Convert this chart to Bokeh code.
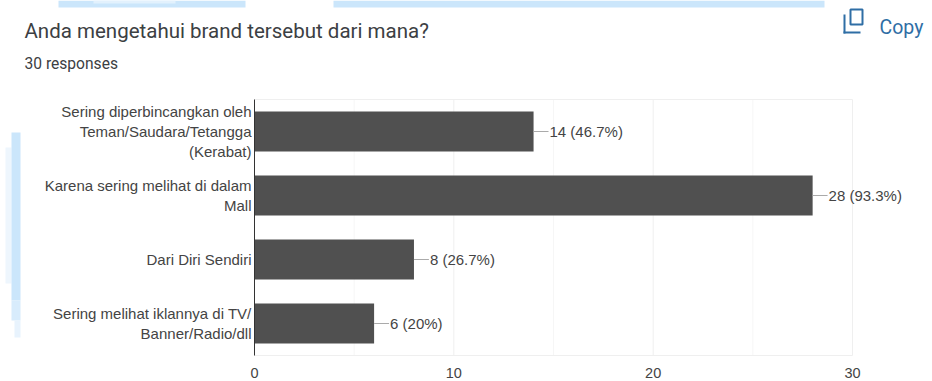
from bokeh.core.properties import value
from bokeh.embed import file_html
from bokeh.models import BoxAnnotation, ColumnDataSource, FixedTicker, Label, LabelSet, Range1d
from bokeh.plotting import figure
from bokeh.resources import INLINE

# Survey responses, listed top to bottom as they appear on the chart
categories = [
    "Sering diperbincangkan oleh\nTeman/Saudara/Tetangga\n(Kerabat)",
    "Karena sering melihat di dalam\nMall",
    "Dari Diri Sendiri",
    "Sering melihat iklannya di TV/\nBanner/Radio/dll",
]
counts = [14, 28, 8, 6]
value_labels = ["14 (46.7%)", "28 (93.3%)", "8 (26.7%)", "6 (20%)"]
major_ticks = [0, 10, 20, 30]
minor_ticks = [5, 15, 25]

title_text = "Anda mengetahui brand tersebut dari mana?"
subtitle_text = "30 responses"
copy_text = "Copy"

FONT = "Liberation Sans"
BAR = "#505050"
INK = "#444444"
GRID = "#efefef"
MINOR_GRID = "#f6f6f6"
LIGHT_BLUE = "#cbe6fb"
PALE_BLUE = "#e2f1fd"
COPY_BLUE = "#2f6ea5"

WIDTH, HEIGHT = 932, 381

# The frame fills the page so the heading can sit on it; the plotting area
# spans 254..852 px across and 99..355 px down.
PLOT_LEFT, PLOT_RIGHT, PLOT_TOP, PLOT_BOTTOM = 254, 852, 99, 355
XMAX = major_ticks[-1]
px_per_unit = (PLOT_RIGHT - PLOT_LEFT) / XMAX
band = (PLOT_BOTTOM - PLOT_TOP) / len(categories)
first_centre = PLOT_TOP + band / 2
positions = list(range(len(categories)))
y_edge_top, y_edge_bottom = -0.5, len(categories) - 0.5

p = figure(
    width=WIDTH, height=HEIGHT,
    x_range=Range1d(-PLOT_LEFT / px_per_unit, (WIDTH - PLOT_LEFT) / px_per_unit),
    y_range=Range1d((HEIGHT - first_centre) / band, -first_centre / band),
    output_backend="svg", toolbar_location=None,
    min_border=0, min_border_left=0, min_border_right=0, min_border_top=0, min_border_bottom=0,
    background_fill_color="white", border_fill_color="white",
)
p.outline_line_color = None
p.xgrid.visible = False
p.ygrid.visible = False


def canvas_box(left, right, top, bottom, colour):
    """A flat rectangle placed in page pixels, measured from the top-left corner."""
    p.add_layout(BoxAnnotation(
        left=left, right=right, top=top, bottom=bottom,
        left_units="canvas", right_units="canvas", top_units="canvas", bottom_units="canvas",
        fill_color=colour, fill_alpha=1, line_color=None, level="underlay",
    ))


# Pale page decoration sitting behind the card
for box in [
    (58, 245, 0, 7, LIGHT_BLUE),
    (93, 175, 0, 3, PALE_BLUE),
    (333, 824, 0, 7, LIGHT_BLUE),
    (5, 11, 147, 283, "#eef6fd"),
    (11, 20, 132, 300, LIGHT_BLUE),
    (11, 20, 300, 320, "#d8ecfc"),
    (14, 20, 320, 337, "#e8f3fd"),
]:
    canvas_box(*box)

# Copy icon: a square outline with an L-shaped corner behind it
p.add_layout(BoxAnnotation(
    left=850, right=862, top=9, bottom=24,
    left_units="canvas", right_units="canvas", top_units="canvas", bottom_units="canvas",
    fill_alpha=0, line_color=COPY_BLUE, line_alpha=1, line_width=2, level="underlay",
))
for box in [
    (843, 845, 14, 33, COPY_BLUE),
    (843, 860, 31, 33, COPY_BLUE),
]:
    canvas_box(*box)

# Axes pinned to the edges of the plotting area
p.xaxis.fixed_location = y_edge_bottom
p.xaxis.bounds = (0, XMAX)
p.xaxis.ticker = FixedTicker(ticks=major_ticks, minor_ticks=minor_ticks)
p.xaxis.axis_line_color = None
p.xaxis.major_tick_line_color = None
p.xaxis.minor_tick_line_color = None
p.xaxis.major_tick_out = 0
p.xaxis.major_label_text_font = FONT
p.xaxis.major_label_text_font_size = "14.5px"
p.xaxis.major_label_text_color = INK
p.xaxis.major_label_standoff = 8

p.yaxis.fixed_location = 0
p.yaxis.bounds = (y_edge_top, y_edge_bottom)
p.yaxis.ticker = FixedTicker(ticks=positions)
p.yaxis.major_label_overrides = dict(zip(positions, categories))
p.yaxis.axis_line_color = "#333333"
p.yaxis.axis_line_width = 1
p.yaxis.major_tick_line_color = None
p.yaxis.minor_tick_line_color = None
p.yaxis.major_tick_out = 0
p.yaxis.major_label_text_font = FONT
p.yaxis.major_label_text_font_size = "15px"
p.yaxis.major_label_text_color = INK
p.yaxis.major_label_standoff = 3

# Grid lines kept inside the plotting area
p.segment(x0=minor_ticks, x1=minor_ticks, y0=y_edge_top, y1=y_edge_bottom,
          line_color=MINOR_GRID, line_width=1, level="underlay")
p.segment(x0=major_ticks[1:], x1=major_ticks[1:], y0=y_edge_top, y1=y_edge_bottom,
          line_color=GRID, line_width=1, level="underlay")
p.segment(x0=0, x1=XMAX, y0=[y_edge_top, y_edge_bottom], y1=[y_edge_top, y_edge_bottom],
          line_color=GRID, line_width=1, level="underlay")

# Bars
source = ColumnDataSource(dict(y=positions, count=counts, label=value_labels,
                               leader_end=[c + 0.75 for c in counts]))
p.hbar(y="y", left=0, right="count", height=0.625, source=source, fill_color=BAR, line_color=None)

# Value labels, each joined to its bar by a short leader
p.segment(x0="count", x1="leader_end", y0="y", y1="y", source=source,
          line_color="#aaaaaa", line_width=1)
p.add_layout(LabelSet(x="leader_end", y="y", text="label", source=source, x_offset=1,
                      text_font=value(FONT), text_font_size="15px", text_color=INK,
                      text_baseline="middle", text_align="left"))

# Heading block
p.add_layout(Label(x=24, y=30, x_units="canvas", y_units="canvas", text=title_text,
                   text_font="Roboto", text_font_size="20.5px", text_color="#3c4043",
                   text_baseline="alphabetic"))
p.add_layout(Label(x=24, y=63, x_units="canvas", y_units="canvas", text=subtitle_text,
                   text_font="Roboto", text_font_size="15.6px", text_color="#3c4043",
                   text_baseline="alphabetic"))
p.add_layout(Label(x=879, y=27, x_units="canvas", y_units="canvas", text=copy_text,
                   text_font="Roboto", text_font_size="19.5px", text_color=COPY_BLUE,
                   text_baseline="alphabetic"))

open("out.html", "w").write(file_html(p, INLINE))
